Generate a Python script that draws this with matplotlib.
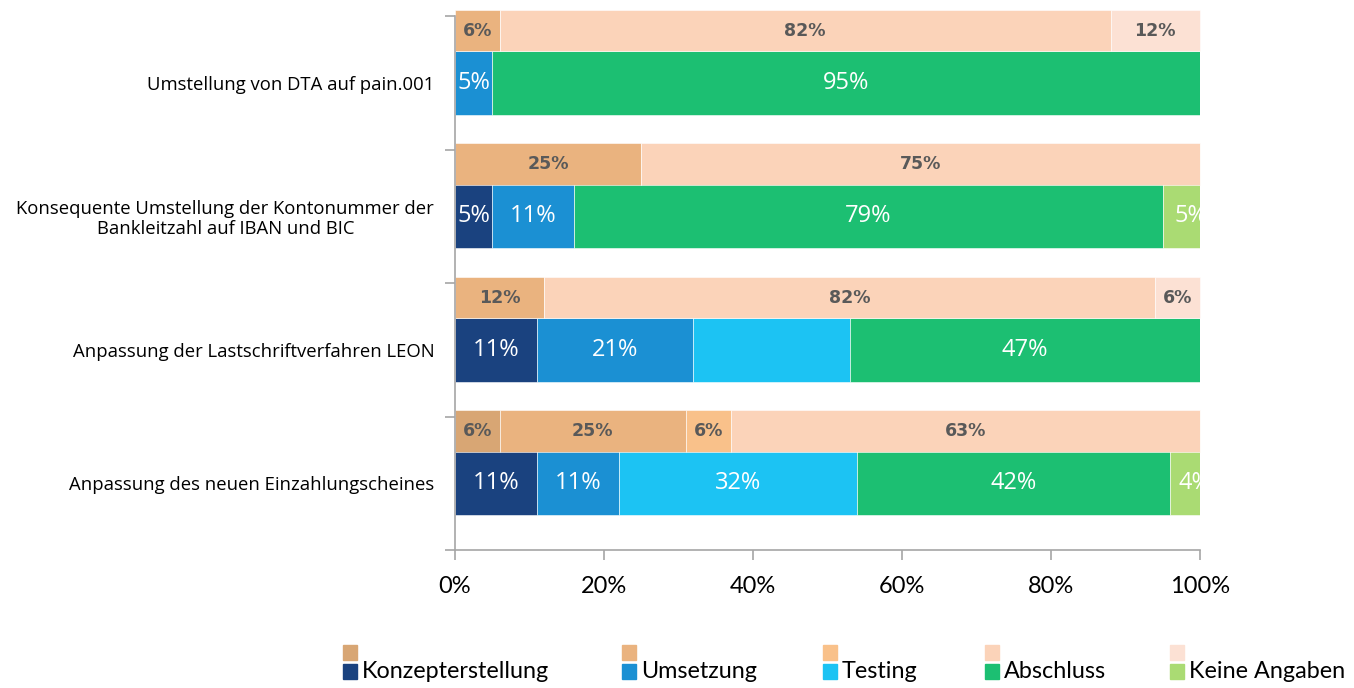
import matplotlib
matplotlib.use('Agg')
from matplotlib import pyplot as plt
from matplotlib.patches import Rectangle
import numpy as np

# categories, top to bottom
categories = [
    'Umstellung von DTA auf pain.001',
    'Konsequente Umstellung der Kontonummer der\nBankleitzahl auf IBAN und BIC',
    'Anpassung der Lastschriftverfahren LEON',
    'Anpassung des neuen Einzahlungscheines',
]

# main stacked bars (percent)
main_names = ['Konzepterstellung', 'Umsetzung', 'Testing', 'Abschluss', 'Keine Angaben']
konzept = [0, 5, 11, 11]
umsetzung = [5, 11, 21, 11]
testing = [0, 0, 21, 32]
abschluss = [95, 79, 47, 42]
keine = [0, 5, 0, 4]
main_values = [konzept, umsetzung, testing, abschluss, keine]
main_colors = ['#1a427f', '#1b90d3', '#1cc3f3', '#1cbf72', '#aadb73']

# small (unlabelled) bars above each main bar
small_1 = [0, 0, 0, 6]
small_2 = [6, 25, 12, 25]
small_3 = [0, 0, 0, 6]
small_4 = [82, 75, 82, 63]
small_5 = [12, 0, 6, 0]
small_values = [small_1, small_2, small_3, small_4, small_5]
small_colors = ['#d8a674', '#eab37f', '#f9c18a', '#fbd3b9', '#fce1d4']

x_ticks = [0, 20, 40, 60, 80, 100]

W, H = 1354, 688
fig = plt.figure(figsize=(W / 100, H / 100), dpi=100)
ax = fig.add_axes([455 / W, 138 / H, 745 / W, 534 / H])

n = len(categories)
centers = np.arange(n)[::-1] + 0.5
main_h = 0.48
small_off = 0.39
small_h = 0.31

# main bars
left = np.zeros(n)
for si, (vals, col) in enumerate(zip(main_values, main_colors)):
    vals = np.array(vals, dtype=float)
    ax.barh(centers, vals, left=left, height=main_h, color=col,
            edgecolor='white', linewidth=0.4)
    for ci, (yc, l, v) in enumerate(zip(centers, left, vals)):
        if v <= 0:
            continue
        yy = yc
        xx = l + v / 2
        if si == 2 and ci == 2:
            # this label sits below its bar in the original (white on white)
            yy = yc - 0.36
        if si == 4:
            # labels of the last thin segment are pushed against the edge
            xx = l + v / 2 + 1.3
        ax.text(xx, yy, f'{v:.0f}%', ha='center', va='center',
                color='white', fontsize=17, family='Open Sans', clip_on=True)
    left += vals

# small bars
left = np.zeros(n)
for vals, col in zip(small_values, small_colors):
    vals = np.array(vals, dtype=float)
    bars = ax.barh(centers + small_off, vals, left=left, height=small_h,
                   color=col, edgecolor='white', linewidth=0.4)
    for b in bars:
        b.set_clip_on(False)
    for yc, l, v in zip(centers + small_off, left, vals):
        if v > 0:
            ax.text(l + v / 2, yc, f'{v:.0f}%', ha='center', va='center',
                    color='#595959', fontsize=12.5, fontweight='bold',
                    family='DejaVu Sans')
    left += vals

ax.set_xlim(0, 100)
ax.set_ylim(0, n)

spine_col = '#a6a6a6'
for s in ['top', 'right']:
    ax.spines[s].set_visible(False)
for s in ['left', 'bottom']:
    ax.spines[s].set_color(spine_col)
    ax.spines[s].set_linewidth(1.2)

ax.set_xticks(x_ticks)
ax.set_xticklabels([f'{t}%' for t in x_ticks], family='Lato', fontsize=17)
ax.tick_params(axis='x', length=7, color=spine_col, width=1.2, pad=12)

ax.set_yticks(np.arange(n + 1))
ax.set_yticklabels([])
ax.set_yticks(centers, minor=True)
ax.set_yticklabels(categories, minor=True, family='Open Sans', fontsize=13.3)
ax.tick_params(axis='y', which='major', length=7, color=spine_col, width=1.2)
ax.tick_params(axis='y', which='minor', length=0, pad=15)
for lbl in ax.get_yticklabels(minor=True):
    lbl.set_multialignment('center')
    lbl.set_linespacing(1.15)

# legend: two rows of swatches, labels only on the lower row
leg_x = [343, 622, 823, 985, 1170]
for i in range(5):
    x0 = leg_x[i]
    fig.add_artist(Rectangle((x0 / W, (H - 660) / H), 14 / W, 15 / H,
                             transform=fig.transFigure, color=small_colors[i]))
    fig.add_artist(Rectangle((x0 / W, (H - 679) / H), 14 / W, 15 / H,
                             transform=fig.transFigure, color=main_colors[i]))
    fig.text((x0 + 19) / W, (H - 672) / H, main_names[i], ha='left', va='center',
             fontsize=16.8, family='Lato', color='black')

fig.savefig('out.png', dpi=100)
